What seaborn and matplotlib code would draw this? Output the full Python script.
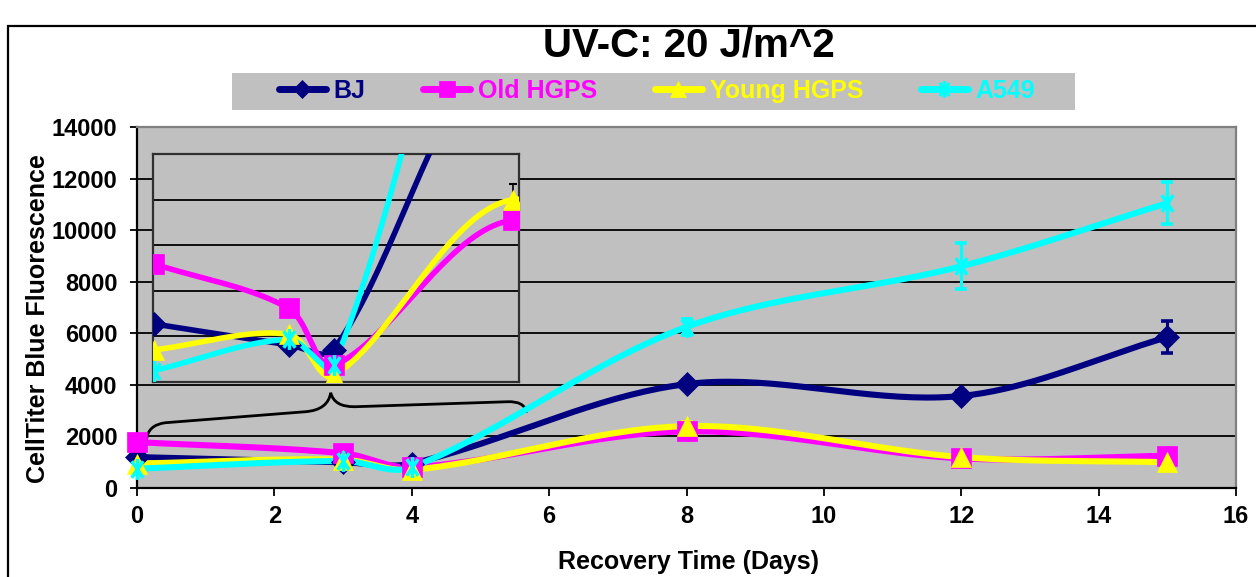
import numpy as np
import pandas as pd
import matplotlib
matplotlib.use("Agg")
import matplotlib.pyplot as plt
from matplotlib.path import Path
from matplotlib.patches import PathPatch, Rectangle
from matplotlib.lines import Line2D
import seaborn as sns

# ---- data -------------------------------------------------------------
days = [0, 3, 4, 8, 12, 15]
bj = [1200, 1000, 950, 4030, 3570, 5850]
old_hgps = [1780, 1350, 800, 2200, 1150, 1250]
young_hgps = [950, 1100, 700, 2400, 1200, 1000]
a549 = [750, 1050, 800, 6250, 8600, 11050]

bj_err = [0, 0, 0, 150, 200, 620]
old_err = [0, 0, 0, 150, 0, 0]
young_err = [0, 0, 0, 150, 0, 0]
a549_err = [0, 0, 0, 300, 900, 800]

series_names = ["BJ", "Old HGPS", "Young HGPS", "A549"]
series_values = [bj, old_hgps, young_hgps, a549]
series_errors = [bj_err, old_err, young_err, a549_err]
series_colors = ["#000080", "#FF00FF", "#FFFF00", "#00FFFF"]

title_text = "UV-C: 20 J/m^2"
x_label = "Recovery Time (Days)"
y_label = "CellTiter Blue Fluorescence"
x_ticks = list(range(0, 17, 2))
y_ticks = list(range(0, 14001, 2000))

# curly brace that ties the inset to the early time points (data coords)
brace_x = [0.14, 0.16, 0.41, 2.45, 2.78, 2.82, 2.87, 3.17, 5.40, 5.63, 5.67]
brace_y = [1889, 2443, 2532, 2959, 3025, 3696, 3141, 3153, 3347, 3374, 2959]

# ---- helpers ----------------------------------------------------------
def smooth_curve(xs, ys, sx, sy, n=40):
    """Bezier smoothing through every point; tangents are weighted by the
    on-screen segment lengths (sx, sy = pixels per data unit)."""
    p = np.column_stack([np.asarray(xs, float) * sx, np.asarray(ys, float) * sy])
    t = np.linspace(0, 1, n)[:, None]
    out = []
    last = len(p) - 1
    for i in range(last):
        p0, p1 = p[i], p[i + 1]
        prev = p[i - 1] if i > 0 else p0
        nxt = p[i + 2] if i + 2 <= last else p1
        d01 = np.hypot(*(p1 - p0))
        d_in = np.hypot(*(p0 - prev))
        d_out = np.hypot(*(nxt - p1))
        c0 = p0 + (p1 - prev) * d01 / (d_in + d01) / 3.0
        c1 = p1 - (nxt - p0) * d01 / (d01 + d_out) / 3.0
        seg = ((1 - t) ** 3) * p0 + 3 * ((1 - t) ** 2) * t * c0 \
            + 3 * (1 - t) * t ** 2 * c1 + t ** 3 * p1
        out.append(seg if i == 0 else seg[1:])
    c = np.vstack(out)
    return c[:, 0] / sx, c[:, 1] / sy


star_marker = Path(
    [(-0.55, -0.8), (0.55, 0.8), (-0.55, 0.8), (0.55, -0.8), (0, -1), (0, 1)],
    [Path.MOVETO, Path.LINETO, Path.MOVETO, Path.LINETO, Path.MOVETO, Path.LINETO],
)
series_markers = ["D", "s", "^", star_marker]
marker_sizes = [12, 15, 15, 15]
legend_marker_sizes = [9, 12, 12, 12]

# ---- style ------------------------------------------------------------
sns.set_theme(style="white")
plt.rcParams["font.family"] = ["Liberation Sans", "DejaVu Sans"]
plt.rcParams["font.weight"] = "bold"
plt.rcParams["text.color"] = "black"
plt.rcParams["axes.labelcolor"] = "black"
plt.rcParams["xtick.color"] = "black"
plt.rcParams["ytick.color"] = "black"

BG = "#C0C0C0"

fig = plt.figure(figsize=(12.56, 5.77), dpi=100)
fig.patch.set_facecolor("white")

# outer chart frame
fig.patches.append(Rectangle((0.0064, -0.2), 1.3, 0.955 + 0.2,
                             transform=fig.transFigure, fill=False,
                             edgecolor="black", linewidth=1.6, zorder=0))

ax = fig.add_axes([0.1091, 0.1542, 0.875, 0.6256])
ax.set_facecolor(BG)


def draw_series(axis, lw, sx, sy, with_err, clip):
    for name, vals, errs, col, mk, ms in zip(series_names, series_values,
                                             series_errors, series_colors,
                                             series_markers, marker_sizes):
        cx, cy = smooth_curve(days, vals, sx, sy)
        sns.lineplot(x=cx, y=cy, sort=False, estimator=None, ax=axis,
                     color=col, linewidth=lw, zorder=3)
        if with_err:
            axis.errorbar(days, vals, yerr=errs, fmt="none", ecolor=col,
                          elinewidth=2.2, capsize=4, capthick=2.6, zorder=4)
        edge_w = 2.5 if mk is star_marker else 0.5
        sns.lineplot(x=days, y=vals, ax=axis, estimator=None, errorbar=None,
                     color=col, linestyle="none", marker=mk,
                     markersize=ms, markeredgecolor=col,
                     markerfacecolor=col, markeredgewidth=edge_w, zorder=5,
                     clip_on=clip)


draw_series(ax, 4.4, 1099 / 16, 361 / 14000, True, False)

ax.set_xlim(0, 16)
ax.set_ylim(0, 14000)
ax.set_xticks(x_ticks)
ax.set_yticks(y_ticks)
ax.set_xticklabels([str(v) for v in x_ticks], fontsize=17, fontweight="bold",
                   color="black")
ax.set_yticklabels([str(v) for v in y_ticks], fontsize=17, fontweight="bold",
                   color="black")
ax.yaxis.grid(True, color="black", linewidth=1.3)
ax.xaxis.grid(False)
ax.set_axisbelow(True)
ax.tick_params(axis="y", direction="out", length=5, width=1.3, pad=9,
               left=True, colors="black")
ax.tick_params(axis="x", direction="out", length=6, width=1.3, pad=6,
               bottom=True, colors="black")
for side in ("left", "bottom"):
    ax.spines[side].set_color("black")
    ax.spines[side].set_linewidth(1.6)
for side in ("top", "right"):
    ax.spines[side].set_color("#808080")
    ax.spines[side].set_linewidth(1.6)

ax.set_xlabel(x_label, fontsize=18, fontweight="bold", color="black")
ax.set_ylabel(y_label, fontsize=18, fontweight="bold", color="black")
ax.xaxis.set_label_coords(0.502, -0.172)
ax.yaxis.set_label_coords(-0.079, 0.47)

# brace
bverts = list(zip(brace_x, brace_y))
bcodes = [Path.MOVETO, Path.CURVE3, Path.CURVE3, Path.LINETO, Path.CURVE3,
          Path.CURVE3, Path.CURVE3, Path.CURVE3, Path.LINETO, Path.CURVE3,
          Path.CURVE3]
ax.add_patch(PathPatch(Path(bverts, bcodes), fill=False, edgecolor="black",
                       linewidth=2.0, zorder=2.5, capstyle="round"))

# ---- inset of the early days -----------------------------------------
ins = fig.add_axes([0.1218, 0.338, 0.2914, 0.395])
ins.set_facecolor(BG)
ins_lo, ins_hi = 640, 2840
draw_series(ins, 4.0, 366 / 8.16, 228 / (ins_hi - ins_lo), False, True)
ins.errorbar([8], [young_hgps[3]], yerr=[[0], [young_err[3]]], fmt="none",
             ecolor="black", elinewidth=1.2, capsize=3, capthick=1.5, zorder=2)
ins.set_xlim(-0.025, 8.134)
ins.set_ylim(ins_lo, ins_hi)
ins.set_yticks(np.linspace(ins_lo, ins_hi, 6))
ins.set_xticks([])
ins.set_yticklabels([])
ins.tick_params(left=False, bottom=False)
ins.yaxis.grid(True, color="black", linewidth=1.3)
ins.set_axisbelow(True)
ins.set_xlabel("")
ins.set_ylabel("")
for side in ins.spines.values():
    side.set_color("#303030")
    side.set_linewidth(1.6)

# ---- title and legend -------------------------------------------------
fig.text(0.5486, 0.922, title_text, ha="center", va="center",
         fontsize=29, fontweight="bold", color="black")

fig.patches.append(Rectangle((0.1847, 0.8094), 0.671, 0.0641,
                             transform=fig.transFigure, facecolor=BG,
                             edgecolor="none", zorder=0))
handles = []
for name, col, mk, ms in zip(series_names, series_colors, series_markers,
                             legend_marker_sizes):
    handles.append(Line2D([0], [0], color=col, linewidth=5, marker=mk,
                          markersize=ms, markerfacecolor=col,
                          markeredgecolor=col,
                          markeredgewidth=2.2 if mk is star_marker else 0.5))
leg = fig.legend(handles, series_names, loc="center", ncol=4,
                 bbox_to_anchor=(0.523, 0.842), frameon=False,
                 handlelength=1.9, handletextpad=0.3, columnspacing=2.3,
                 prop={"size": 18, "weight": "bold"})
for txt, col in zip(leg.get_texts(), series_colors):
    txt.set_color(col)

fig.savefig("out.png", dpi=100)
